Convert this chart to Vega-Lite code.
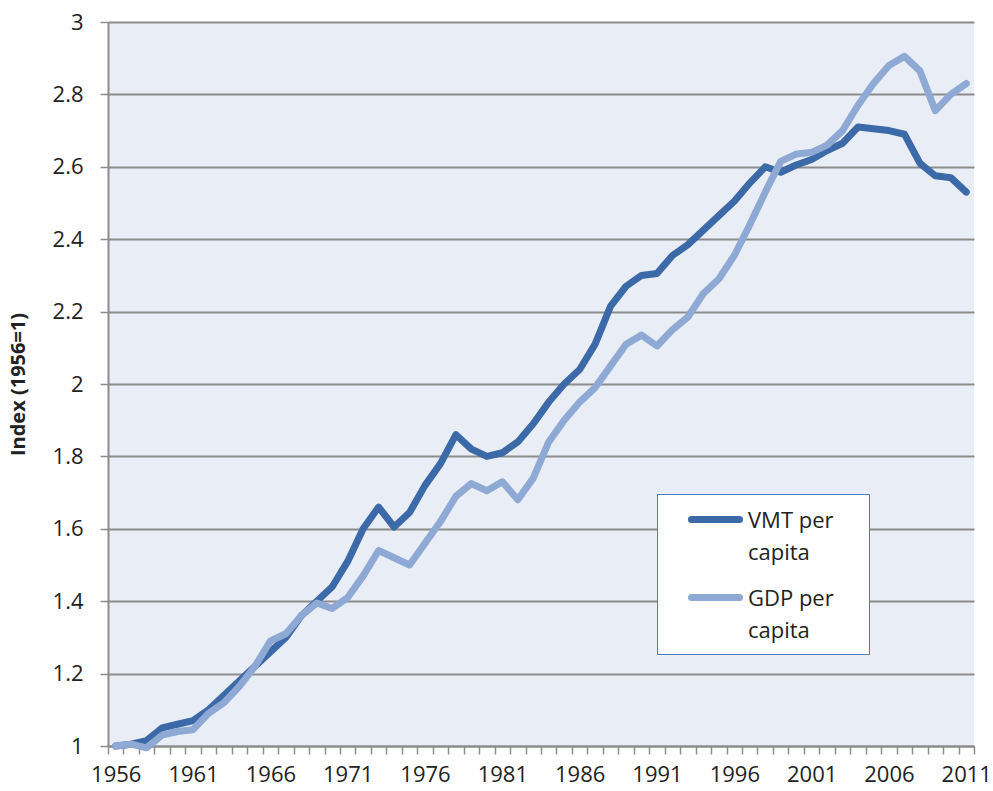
{
  "$schema": "https://vega.github.io/schema/vega-lite/v6.json",
  "width": 866,
  "height": 724,
  "autosize": {"type": "none"},
  "padding": {"left": 108, "top": 22, "right": 19, "bottom": 45},
  "background": "white",
  "config": {"view": {"fill": "#E9EDF5", "stroke": null}, "font": "Open Sans"},
  "data": {"values": [
    {"year":1956,"series":"VMT per capita","value":1.0},
    {"year":1957,"series":"VMT per capita","value":1.005},
    {"year":1958,"series":"VMT per capita","value":1.015},
    {"year":1959,"series":"VMT per capita","value":1.05},
    {"year":1960,"series":"VMT per capita","value":1.06},
    {"year":1961,"series":"VMT per capita","value":1.07},
    {"year":1962,"series":"VMT per capita","value":1.10},
    {"year":1963,"series":"VMT per capita","value":1.14},
    {"year":1964,"series":"VMT per capita","value":1.18},
    {"year":1965,"series":"VMT per capita","value":1.22},
    {"year":1966,"series":"VMT per capita","value":1.26},
    {"year":1967,"series":"VMT per capita","value":1.30},
    {"year":1968,"series":"VMT per capita","value":1.36},
    {"year":1969,"series":"VMT per capita","value":1.40},
    {"year":1970,"series":"VMT per capita","value":1.44},
    {"year":1971,"series":"VMT per capita","value":1.51},
    {"year":1972,"series":"VMT per capita","value":1.60},
    {"year":1973,"series":"VMT per capita","value":1.66},
    {"year":1974,"series":"VMT per capita","value":1.605},
    {"year":1975,"series":"VMT per capita","value":1.645},
    {"year":1976,"series":"VMT per capita","value":1.72},
    {"year":1977,"series":"VMT per capita","value":1.78},
    {"year":1978,"series":"VMT per capita","value":1.86},
    {"year":1979,"series":"VMT per capita","value":1.82},
    {"year":1980,"series":"VMT per capita","value":1.80},
    {"year":1981,"series":"VMT per capita","value":1.81},
    {"year":1982,"series":"VMT per capita","value":1.84},
    {"year":1983,"series":"VMT per capita","value":1.89},
    {"year":1984,"series":"VMT per capita","value":1.95},
    {"year":1985,"series":"VMT per capita","value":2.00},
    {"year":1986,"series":"VMT per capita","value":2.04},
    {"year":1987,"series":"VMT per capita","value":2.11},
    {"year":1988,"series":"VMT per capita","value":2.215},
    {"year":1989,"series":"VMT per capita","value":2.27},
    {"year":1990,"series":"VMT per capita","value":2.30},
    {"year":1991,"series":"VMT per capita","value":2.305},
    {"year":1992,"series":"VMT per capita","value":2.355},
    {"year":1993,"series":"VMT per capita","value":2.385},
    {"year":1994,"series":"VMT per capita","value":2.425},
    {"year":1995,"series":"VMT per capita","value":2.465},
    {"year":1996,"series":"VMT per capita","value":2.505},
    {"year":1997,"series":"VMT per capita","value":2.555},
    {"year":1998,"series":"VMT per capita","value":2.60},
    {"year":1999,"series":"VMT per capita","value":2.585},
    {"year":2000,"series":"VMT per capita","value":2.605},
    {"year":2001,"series":"VMT per capita","value":2.62},
    {"year":2002,"series":"VMT per capita","value":2.645},
    {"year":2003,"series":"VMT per capita","value":2.665},
    {"year":2004,"series":"VMT per capita","value":2.71},
    {"year":2005,"series":"VMT per capita","value":2.705},
    {"year":2006,"series":"VMT per capita","value":2.70},
    {"year":2007,"series":"VMT per capita","value":2.69},
    {"year":2008,"series":"VMT per capita","value":2.61},
    {"year":2009,"series":"VMT per capita","value":2.575},
    {"year":2010,"series":"VMT per capita","value":2.57},
    {"year":2011,"series":"VMT per capita","value":2.53},
    {"year":1956,"series":"GDP per capita","value":1.0},
    {"year":1957,"series":"GDP per capita","value":1.005},
    {"year":1958,"series":"GDP per capita","value":0.995},
    {"year":1959,"series":"GDP per capita","value":1.03},
    {"year":1960,"series":"GDP per capita","value":1.04},
    {"year":1961,"series":"GDP per capita","value":1.045},
    {"year":1962,"series":"GDP per capita","value":1.09},
    {"year":1963,"series":"GDP per capita","value":1.12},
    {"year":1964,"series":"GDP per capita","value":1.165},
    {"year":1965,"series":"GDP per capita","value":1.22},
    {"year":1966,"series":"GDP per capita","value":1.29},
    {"year":1967,"series":"GDP per capita","value":1.31},
    {"year":1968,"series":"GDP per capita","value":1.36},
    {"year":1969,"series":"GDP per capita","value":1.395},
    {"year":1970,"series":"GDP per capita","value":1.38},
    {"year":1971,"series":"GDP per capita","value":1.41},
    {"year":1972,"series":"GDP per capita","value":1.47},
    {"year":1973,"series":"GDP per capita","value":1.54},
    {"year":1974,"series":"GDP per capita","value":1.52},
    {"year":1975,"series":"GDP per capita","value":1.50},
    {"year":1976,"series":"GDP per capita","value":1.56},
    {"year":1977,"series":"GDP per capita","value":1.62},
    {"year":1978,"series":"GDP per capita","value":1.69},
    {"year":1979,"series":"GDP per capita","value":1.725},
    {"year":1980,"series":"GDP per capita","value":1.705},
    {"year":1981,"series":"GDP per capita","value":1.73},
    {"year":1982,"series":"GDP per capita","value":1.68},
    {"year":1983,"series":"GDP per capita","value":1.74},
    {"year":1984,"series":"GDP per capita","value":1.84},
    {"year":1985,"series":"GDP per capita","value":1.90},
    {"year":1986,"series":"GDP per capita","value":1.95},
    {"year":1987,"series":"GDP per capita","value":1.99},
    {"year":1988,"series":"GDP per capita","value":2.05},
    {"year":1989,"series":"GDP per capita","value":2.11},
    {"year":1990,"series":"GDP per capita","value":2.135},
    {"year":1991,"series":"GDP per capita","value":2.105},
    {"year":1992,"series":"GDP per capita","value":2.15},
    {"year":1993,"series":"GDP per capita","value":2.185},
    {"year":1994,"series":"GDP per capita","value":2.25},
    {"year":1995,"series":"GDP per capita","value":2.29},
    {"year":1996,"series":"GDP per capita","value":2.355},
    {"year":1997,"series":"GDP per capita","value":2.44},
    {"year":1998,"series":"GDP per capita","value":2.53},
    {"year":1999,"series":"GDP per capita","value":2.615},
    {"year":2000,"series":"GDP per capita","value":2.635},
    {"year":2001,"series":"GDP per capita","value":2.64},
    {"year":2002,"series":"GDP per capita","value":2.66},
    {"year":2003,"series":"GDP per capita","value":2.70},
    {"year":2004,"series":"GDP per capita","value":2.77},
    {"year":2005,"series":"GDP per capita","value":2.83},
    {"year":2006,"series":"GDP per capita","value":2.88},
    {"year":2007,"series":"GDP per capita","value":2.905},
    {"year":2008,"series":"GDP per capita","value":2.865},
    {"year":2009,"series":"GDP per capita","value":2.755},
    {"year":2010,"series":"GDP per capita","value":2.80},
    {"year":2011,"series":"GDP per capita","value":2.83}
  ]},
  "encoding": {
    "x": {
      "field": "year", "type": "ordinal",
      "scale": {"type": "band", "paddingInner": 0, "paddingOuter": 0},
      "axis": {
        "title": null,
        "labelExpr": "(datum.value - 1956) % 5 == 0 ? datum.label : ''",
        "labelAngle": 0,
        "tickBand": "extent",
        "tickSize": 8,
        "tickColor": "#8c8c8c",
        "tickWidth": 1.5,
        "domainColor": "#8c8c8c",
        "domainWidth": 2,
        "labelFontSize": 22,
        "labelColor": "#222222",
        "labelPadding": 10,
        "grid": false
      }
    },
    "y": {
      "field": "value", "type": "quantitative",
      "scale": {"domain": [1, 3], "nice": false, "zero": false},
      "axis": {
        "title": "Index (1956=1)",
        "values": [1, 1.2, 1.4, 1.6, 1.8, 2, 2.2, 2.4, 2.6, 2.8, 3],
        "format": "~g",
        "grid": true,
        "gridColor": "#8c8c8c",
        "gridWidth": 2,
        "tickSize": 8,
        "tickColor": "#8c8c8c",
        "tickWidth": 1.5,
        "domainColor": "#8c8c8c",
        "domainWidth": 2,
        "labelFontSize": 22,
        "labelColor": "#222222",
        "labelPadding": 17,
        "titleFontSize": 20,
        "titleFontWeight": "bold",
        "titleColor": "#222222",
        "titleBaseline": "middle",
        "titleX": -90,
        "titleY": 362
      }
    },
    "color": {
      "field": "series", "type": "nominal",
      "scale": {"domain": ["VMT per capita", "GDP per capita"], "range": ["#3C69A8", "#8EA9D3"]},
      "legend": {
        "orient": "none",
        "legendX": 549,
        "legendY": 472,
        "title": null,
        "fillColor": "white",
        "strokeColor": "#4F7DB8",
        "padding": 12,
        "symbolType": "M-2.5,0H2.5",
        "symbolSize": 369,
        "symbolStrokeWidth": 7,
        "symbolOffset": 33,
        "labelFontSize": 22,
        "labelColor": "#222222",
        "labelBaseline": "alphabetic",
        "labelOffset": 19,
        "rowPadding": 19,
        "labelExpr": "datum.label == 'VMT per capita' ? ['VMT per\u00a0\u00a0\u00a0\u00a0\u200b', 'capita'] : ['GDP per\u00a0\u00a0\u00a0\u00a0\u200b', 'capita']",
        "encode": {
          "labels": {"update": {"dy": {"value": 8}, "lineHeight": {"value": 32}}},
          "symbols": {"update": {"strokeCap": {"value": "round"}}}
        }
      }
    }
  },
  "layer": [
    {
      "transform": [{"filter": "datum.series == 'VMT per capita'"}],
      "mark": {"type": "line", "strokeWidth": 7, "strokeCap": "round", "strokeJoin": "round"}
    },
    {
      "transform": [{"filter": "datum.series == 'GDP per capita'"}],
      "mark": {"type": "line", "strokeWidth": 7, "strokeCap": "round", "strokeJoin": "round"}
    }
  ]
}
